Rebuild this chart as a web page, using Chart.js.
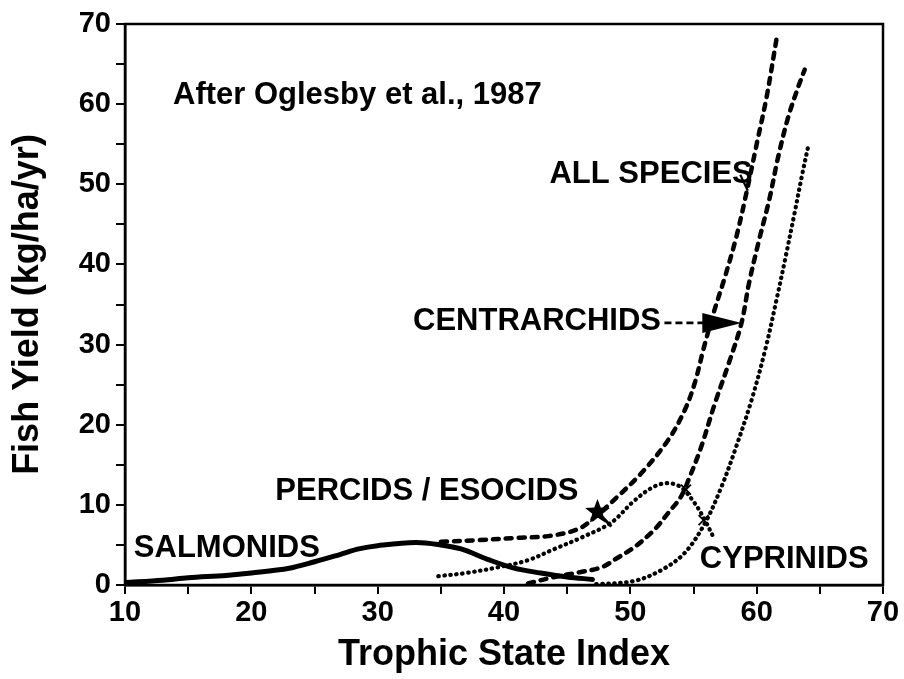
<!DOCTYPE html>
<html>
<head>
<meta charset="utf-8">
<script src="https://cdn.jsdelivr.net/npm/chart.js@4/dist/chart.umd.min.js"></script>
<style>
  body { margin: 0; background: #fff; }
  #wrap { width: 904px; height: 679px; }
</style>
</head>
<body>
<div id="wrap"><canvas id="chart" width="904" height="679"></canvas></div>
<script>
// valeurs (Oglesby et al., 1987)
const salmonidsX = [10, 13, 15, 18, 20, 23, 25, 27, 28.5, 30, 33, 35, 36.6, 38.7, 40.8, 42.9, 45, 47];
const salmonidsY = [0.3, 0.6, 0.9, 1.2, 1.5, 2.1, 2.9, 3.8, 4.5, 4.9, 5.3, 5.0, 4.5, 3.2, 2.1, 1.5, 1.0, 0.7];

const allSpeciesX = [35, 38, 41.3, 43.5, 45.9, 47.3, 48.7, 50.9, 53, 54.3, 55.1, 55.8, 56.6, 57.5, 58.4, 59.2, 60, 60.8, 61.6];
const allSpeciesY = [5.4, 5.6, 5.9, 6.1, 7.0, 8.6, 10.6, 14.0, 18.1, 21.8, 25.2, 29.5, 34, 38.5, 43.5, 49, 55, 61, 68.4];

const centrarchidsX = [41.9, 44, 46, 47.7, 49, 50.3, 51.9, 53, 54, 54.6, 55.6, 56.7, 57.8, 58.8, 59.4, 60.2, 61, 61.7, 62.5, 63.3, 63.8];
const centrarchidsY = [0.2, 1.0, 1.6, 2.2, 3.4, 4.7, 6.9, 9.0, 11.0, 13.1, 17.2, 22.7, 27.7, 32.7, 37.7, 43.1, 48.1, 53.4, 58.4, 62.2, 64.3];

const percidsX = [34.8, 37, 39.5, 41.9, 44, 46.1, 48.5, 50.3, 51.9, 53, 54, 55.1, 55.9, 56.6];
const percidsY = [1.1, 1.5, 2.2, 3.1, 4.5, 5.9, 7.8, 10.5, 12.3, 12.7, 12.2, 10.2, 8.1, 5.9];

const cyprinidsX = [47.3, 50.3, 52.5, 54.3, 55.9, 57.2, 58.3, 59.6, 60.7, 61.6, 62.3, 63, 63.6, 64.1];
const cyprinidsY = [0.1, 0.5, 1.9, 4.0, 7.7, 12.2, 16.9, 23.1, 29.5, 35.8, 41, 46.4, 51.2, 54.9];

const xTicks = [10, 20, 30, 40, 50, 60, 70];
const yTicks = [0, 10, 20, 30, 40, 50, 60, 70];

// textes posés en coordonnées de données (bord gauche, ligne de base)
const annoText = ['After Oglesby et al., 1987', 'ALL SPECIES', 'CENTRARCHIDS', 'PERCIDS / ESOCIDS', 'SALMONIDS', 'CYPRINIDS'];
const annoX = [13.8, 43.6, 32.8, 21.9, 10.7, 55.5];
const annoY = [60, 50.2, 31.8, 10.6, 3.5, 2.1];

function pts(xs, ys) {
  return xs.map((x, i) => ({ x: x, y: ys[i] }));
}

const FONT = '"Liberation Sans", Arial, Helvetica, sans-serif';

const figurePlugin = {
  id: 'figure',
  afterDraw(chart) {
    const c = chart.ctx;
    const a = chart.chartArea;
    const xs = chart.scales.x, ys = chart.scales.y;
    const px = v => xs.getPixelForValue(v);
    const py = v => ys.getPixelForValue(v);
    c.save();
    // cadre
    c.strokeStyle = '#000';
    c.lineWidth = 2.5;
    c.strokeRect(a.left, a.top, a.right - a.left, a.bottom - a.top);

    // textes
    c.fillStyle = '#000';
    c.font = 'bold 31px ' + FONT;
    c.textBaseline = 'alphabetic';
    c.textAlign = 'left';
    annoText.forEach((t, i) => c.fillText(t, px(annoX[i]), py(annoY[i])));

    // flèche CENTRARCHIDS
    const ay = py(32.7);
    c.setLineDash([7, 4]);
    c.lineWidth = 2.8;
    c.beginPath();
    c.moveTo(px(52.7), ay);
    c.lineTo(px(56), ay);
    c.stroke();
    c.setLineDash([]);
    c.beginPath();
    c.moveTo(px(55.7), ay - 10);
    c.lineTo(px(58.8), ay);
    c.lineTo(px(55.7), ay + 10);
    c.closePath();
    c.fill();

    // étoile PERCIDS / ESOCIDS
    const sx = px(47.4), sy = py(9.1);
    c.beginPath();
    for (let k = 0; k < 10; k++) {
      const r = k % 2 === 0 ? 13 : 5.5;
      const ang = -Math.PI / 2 + k * Math.PI / 5;
      const xx = sx + r * Math.cos(ang), yy = sy + r * Math.sin(ang);
      if (k === 0) c.moveTo(xx, yy); else c.lineTo(xx, yy);
    }
    c.closePath();
    c.fill();
    c.lineWidth = 3;
    c.beginPath();
    c.moveTo(sx, sy);
    c.lineTo(px(48.5), py(7.3));
    c.stroke();

    // petite marque ALL SPECIES
    c.lineWidth = 2.2;
    c.beginPath();
    c.moveTo(px(58.7), py(51.2));
    c.lineTo(px(59.3), py(49.2));
    c.stroke();

    // croix sur la courbe pointillée
    c.lineWidth = 1.8;
    [[54.4, 11.9], [55.8, 8.1]].forEach(p => {
      const cx = px(p[0]), cy = py(p[1]);
      c.beginPath();
      c.moveTo(cx - 5, cy - 5); c.lineTo(cx + 5, cy + 5);
      c.moveTo(cx + 5, cy - 5); c.lineTo(cx - 5, cy + 5);
      c.stroke();
    });
    c.restore();
  }
};

const dashed = { borderDash: [6, 7], borderWidth: 4.5, borderCapStyle: 'round' };
const dotted = { borderDash: [0.5, 5.5], borderWidth: 4.2, borderCapStyle: 'round' };

new Chart(document.getElementById('chart'), {
  type: 'scatter',
  data: {
    datasets: [
      { label: 'Salmonids', data: pts(salmonidsX, salmonidsY), borderWidth: 5, borderCapStyle: 'round' },
      Object.assign({ label: 'All species', data: pts(allSpeciesX, allSpeciesY) }, dashed),
      Object.assign({ label: 'Centrarchids', data: pts(centrarchidsX, centrarchidsY) }, dashed),
      Object.assign({ label: 'Percids / Esocids', data: pts(percidsX, percidsY) }, dotted),
      Object.assign({ label: 'Cyprinids', data: pts(cyprinidsX, cyprinidsY) }, dotted)
    ].map(d => Object.assign({
      showLine: true, pointRadius: 0, borderColor: '#000', backgroundColor: '#000',
      tension: 0.35, fill: false
    }, d))
  },
  options: {
    responsive: false,
    animation: false,
    layout: { padding: { top: 24, right: 21, left: 0, bottom: 0 } },
    plugins: { legend: { display: false }, tooltip: { enabled: false } },
    scales: {
      x: {
        type: 'linear', min: 10, max: 70,
        afterFit: s => { s.height = 94; },
        ticks: {
          stepSize: 5, padding: 2, color: '#000',
          font: { family: FONT, size: 29, weight: 'bold' },
          callback: v => xTicks.includes(v) ? String(v) : ''
        },
        grid: { drawOnChartArea: false, drawTicks: true, tickLength: 9, color: '#000', lineWidth: 2 },
        border: { display: true, color: '#000', width: 2.5 },
        title: {
          display: true, text: 'Trophic State Index', color: '#000',
          font: { family: FONT, size: 36, weight: 'bold' }, padding: { top: 0, bottom: 2 }
        }
      },
      y: {
        type: 'linear', min: 0, max: 70,
        afterFit: s => { s.width = 125; },
        ticks: {
          stepSize: 5, padding: 5, color: '#000',
          font: { family: FONT, size: 29, weight: 'bold' },
          callback: v => yTicks.includes(v) ? String(v) : ''
        },
        grid: { drawOnChartArea: false, drawTicks: true, tickLength: 9, color: '#000', lineWidth: 2 },
        border: { display: true, color: '#000', width: 2.5 },
        title: {
          display: true, text: 'Fish Yield (kg/ha/yr)', color: '#000',
          font: { family: FONT, size: 36, weight: 'bold' }, padding: { top: 6, bottom: 0 }
        }
      }
    }
  },
  plugins: [figurePlugin]
});
</script>
</body>
</html>
